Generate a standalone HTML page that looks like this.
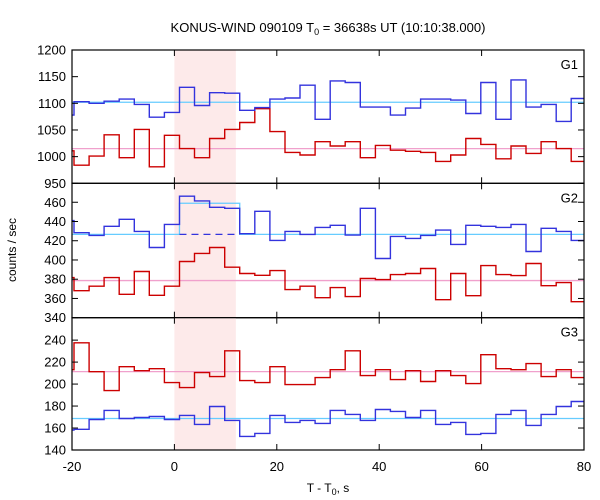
<!DOCTYPE html>
<html><head><meta charset="utf-8"><style>
body{margin:0;background:#fff;}
svg{display:block;font-family:"Liberation Sans","DejaVu Sans",sans-serif;}
</style></head><body>
<svg id="chart" width="600" height="500" viewBox="0 0 600 500" xmlns="http://www.w3.org/2000/svg">
<text x="328" y="32" font-size="13" text-anchor="middle">KONUS-WIND 090109 T<tspan font-size="9" dy="3">0</tspan><tspan dy="-3"> = 36638s UT (10:10:38.000)</tspan></text>
<text transform="translate(16,250) rotate(-90)" font-size="12" text-anchor="middle">counts / sec</text>
<text x="328" y="492" font-size="12" text-anchor="middle">T - T<tspan font-size="9" dy="3">0</tspan><tspan dy="-3">, s</tspan></text>
<g id="plots"></g>
</svg>
<script>
const xTicks = [-20, 0, 20, 40, 60, 80];
const binStart = -19.61, binWidth = 2.943;
const burstRange = [0, 12];
const g1Ticks = [950, 1000, 1050, 1100, 1150, 1200];
const g2Ticks = [340, 360, 380, 400, 420, 440, 460];
const g3Ticks = [140, 160, 180, 200, 220, 240];
const g1Blue = [1078,1103,1100,1104,1108,1098,1074,1083,1130,1096,1120,1119,1087,1092,1108,1110,1134,1070,1142,1139,1093,1093,1078,1091,1108,1108,1106,1081,1139,1070,1144,1093,1098,1066,1109];
const g1Red = [1011,984,1001,1041,998,1051,981,1040,1015,998,1034,1051,1064,1090,1047,1008,1003,1028,1020,1028,998,1021,1012,1010,1008,991,1003,1034,1023,996,1020,1006,1028,1015,991];
const g2Blue = [440.9,428.3,425.5,435,442.3,429.7,413,437,466.3,461.4,454.8,453.7,427.3,450.6,420.3,429.7,426.6,433.9,436,425.9,453.7,401.5,424.5,422.4,425.5,431.1,416.2,436,435,433.9,437,408.8,432.9,429.7,420.3];
const g2Red = [381.7,368.1,372.7,381.7,364.3,388,363.3,372.7,398.4,406.8,413,392.5,385.9,384.1,389,369.2,372.7,360.8,371.3,361.9,380.7,379.6,384.8,385.9,391.1,358.7,385.9,362.9,394.2,384.8,383.8,396.3,373.3,376.5,356.6];
const g3Red = [213.1,237.6,211.3,194.1,215.8,212.2,214,201.3,196.8,210.4,206.8,230.3,203.2,201.3,215.8,199.5,199.5,205.9,213.1,230.3,207.7,213.1,204.1,212.2,202.3,212.2,207.7,200.4,226.7,214,213.1,218.6,206.8,213.1,205.9];
const g3Blue = [158.2,158.8,167.8,176,168.7,169.6,170.5,167.8,171.5,163.3,179.6,166.9,152.4,155.1,171.5,165.1,166.9,164.2,176,172.4,166.9,176.9,175.1,169.6,176,163.3,165.1,154.2,155.1,172.4,176,162.4,172.4,179.6,184.1];
const g1Bg = [1102, 1015];
const g2Bg = [426.6, 378.6];
const g2BurstLevel = 459;
const g3Bg = [168.7, 211.3];

const NS = "http://www.w3.org/2000/svg";
const L = 72, R = 584;
const X = v => L + (v + 20) * (R - L) / 100;
const root = document.getElementById('plots');
function el(tag, attrs, parent) {
  const e = document.createElementNS(NS, tag);
  for (const k in attrs) e.setAttribute(k, attrs[k]);
  (parent || root).appendChild(e);
  return e;
}
function edge(i) { return i <= 0 ? -20 : Math.min(80, binStart + (i - 1) * binWidth); }
function stepPath(vals, Y) {
  let d = '';
  for (let i = 0; i < vals.length; i++) {
    const x0 = X(edge(i)), x1 = X(edge(i + 1)), y = Y(vals[i]);
    d += (i === 0 ? 'M' : 'L') + x0.toFixed(1) + ',' + y.toFixed(1) + 'L' + x1.toFixed(1) + ',' + y.toFixed(1);
  }
  return d;
}
const panels = [
  {name:'g1', top:50, bot:183.3, lo:950, hi:1200, ticks:g1Ticks, blue:g1Blue, red:g1Red, bg:g1Bg, label:'G1'},
  {name:'g2', top:183.3, bot:317.7, lo:340, hi:479.7, ticks:g2Ticks, blue:g2Blue, red:g2Red, bg:g2Bg, label:'G2'},
  {name:'g3', top:317.7, bot:450, lo:140, hi:260.4, ticks:g3Ticks, blue:g3Blue, red:g3Red, bg:g3Bg, label:'G3'}
];
panels.forEach((p, pi) => {
  const g = el('g', {});
  
  
  const Y = v => p.bot - (v - p.lo) * (p.bot - p.top) / (p.hi - p.lo);
  const sh = el('rect', {x:X(burstRange[0]), y:p.top, width:X(burstRange[1]) - X(burstRange[0]), height:p.bot - p.top, fill:'#fdeaea'}, g);
  
  
  const cyan = el('path', {fill:'none', stroke:'#66ccff', 'stroke-width':1.3}, g);
  if (p.name === 'g2') {
    const xa = X(edge(8)), xb = X(edge(12));
    cyan.setAttribute('d', `M${L},${Y(p.bg[0])}L${xa},${Y(p.bg[0])}L${xa},${Y(g2BurstLevel)}L${xb},${Y(g2BurstLevel)}L${xb},${Y(p.bg[0])}L${R},${Y(p.bg[0])}`);
    const dash = el('line', {x1:xa, x2:xb, y1:Y(p.bg[0]), y2:Y(p.bg[0]), stroke:'#3333dd', 'stroke-width':1.3, 'stroke-dasharray':'7,5'}, g);
    
    
  } else {
    cyan.setAttribute('d', `M${L},${Y(p.bg[0])}L${R},${Y(p.bg[0])}`);
  }
  
  
  const pink = el('line', {x1:L, x2:R, y1:Y(p.bg[1]), y2:Y(p.bg[1]), stroke:'#f0a0cc', 'stroke-width':1.3}, g);
  
  
  const red = el('path', {d:stepPath(p.red, Y), fill:'none', stroke:'#cc0000', 'stroke-width':1.4}, g);
  
  
  const blue = el('path', {d:stepPath(p.blue, Y), fill:'none', stroke:'#3333dd', 'stroke-width':1.4}, g);
  
  
  const frame = el('rect', {x:L, y:p.top, width:R - L, height:p.bot - p.top, fill:'none', stroke:'#000', 'stroke-width':1.2}, g);
  
  
  p.ticks.forEach(t => {
    const y = Y(t);
    el('line', {x1:L, x2:L + 6, y1:y, y2:y, stroke:'#000'}, g);
    el('line', {x1:R - 6, x2:R, y1:y, y2:y, stroke:'#000'}, g);
    const tl = el('text', {x:L - 6, y:y + 4.5, 'font-size':13, 'text-anchor':'end'}, g);
    tl.textContent = t;
    
    
  });
  xTicks.forEach(t => {
    const x = X(t);
    el('line', {x1:x, x2:x, y1:p.bot, y2:p.bot - 6, stroke:'#000'}, g);
    el('line', {x1:x, x2:x, y1:p.top, y2:p.top + 6, stroke:'#000'}, g);
  });
  const lab = el('text', {x:R - 6, y:p.top + 19, 'font-size':13, 'text-anchor':'end'}, g);
  lab.textContent = p.label;
  
  
});
xTicks.forEach(t => {
  const tl = el('text', {x:X(t), y:471, 'font-size':13, 'text-anchor':'middle'});
  tl.textContent = t;
  
  
});
</script>
</body></html>
